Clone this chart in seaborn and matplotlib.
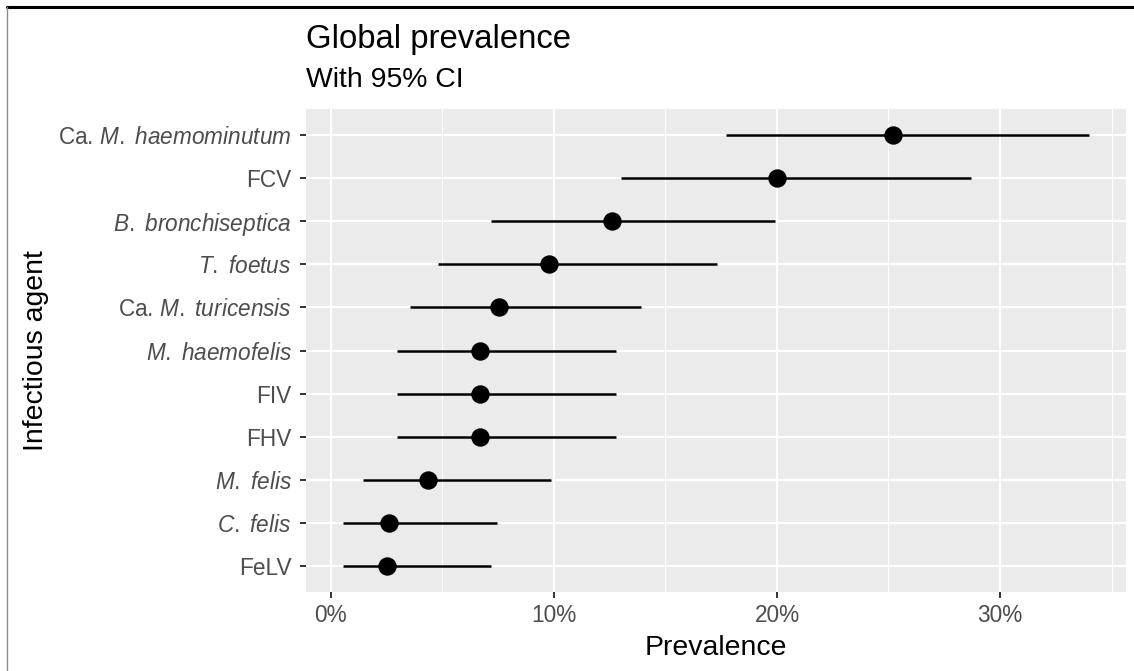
import numpy as np
import pandas as pd
import matplotlib.pyplot as plt
import seaborn as sns
from matplotlib.lines import Line2D
from matplotlib.ticker import FuncFormatter, MultipleLocator

# Data (top row first), prevalence in %
agents = ['Ca. M. haemominutum', 'FCV', 'B. bronchiseptica', 'T. foetus',
          'Ca. M. turicensis', 'M. haemofelis', 'FIV', 'FHV', 'M. felis',
          'C. felis', 'FeLV']
agent_labels = [r'Ca. $\mathit{M.}$ $\mathit{haemominutum}$', 'FCV',
                r'$\mathit{B.}$ $\mathit{bronchiseptica}$', r'$\mathit{T.}$ $\mathit{foetus}\,$',
                r'Ca. $\mathit{M.}$ $\mathit{turicensis}$ ', r'$\mathit{M.}$ $\mathit{haemofelis}$',
                'FIV', 'FHV', r'$\mathit{M.}$ $\mathit{felis}$', r'$\mathit{C.}$ $\mathit{felis}$', 'FeLV']
prevalence = [25.2, 20.0, 12.6, 9.8, 7.55, 6.7, 6.7, 6.7, 4.35, 2.6, 2.5]
ci_low = [17.7, 13.0, 7.2, 4.8, 3.55, 2.95, 2.95, 2.95, 1.45, 0.55, 0.55]
ci_high = [34.0, 28.7, 19.9, 17.3, 13.9, 12.8, 12.8, 12.8, 9.85, 7.45, 7.2]

df = pd.DataFrame({'agent': agents, 'prev': prevalence, 'lo': ci_low, 'hi': ci_high})
df['pos'] = np.arange(len(df))

sns.set_theme(style='darkgrid', rc={
    'axes.facecolor': '#EBEBEB',
    'grid.color': 'white',
})
plt.rcParams['font.family'] = ['Liberation Sans', 'DejaVu Sans']
plt.rcParams['mathtext.fontset'] = 'custom'
plt.rcParams['mathtext.rm'] = 'Liberation Sans'
plt.rcParams['mathtext.it'] = 'Liberation Sans:italic'
plt.rcParams['mathtext.bf'] = 'Liberation Sans:bold'

W, H = 1134, 671
fig = plt.figure(figsize=(W / 100, H / 100), dpi=100)
fig.patch.set_facecolor('white')
px_l, px_r, px_t, px_b = 305.7, 1126, 109, 592
ax = fig.add_axes([px_l / W, 1 - px_b / H, (px_r - px_l) / W, (px_b - px_t) / H])

# CI segments then points
ax.hlines(df['pos'], df['lo'], df['hi'], color='black', lw=1.8, zorder=3)
sns.scatterplot(data=df, x='prev', y='pos', color='black', s=175, linewidth=0,
                zorder=4, ax=ax, legend=False)

ax.set_xlim(-1.13, 35.65)
ax.set_ylim(len(df) - 0.4, -0.6)
ax.xaxis.set_major_locator(MultipleLocator(10))
ax.xaxis.set_minor_locator(MultipleLocator(5))
ax.xaxis.set_major_formatter(FuncFormatter(lambda v, p: f'{v:.0f}%'))
ax.set_yticks(df['pos'])
ax.set_yticklabels(agent_labels)

ax.grid(which='major', color='white', lw=1.45)
ax.grid(which='minor', axis='x', color='white', lw=0.75)
ax.set_axisbelow(True)
for s in ax.spines.values():
    s.set_visible(False)

ax.tick_params(axis='both', which='major', direction='out', length=4, width=1.4,
               color='#333333', labelcolor='#4D4D4D', labelsize=16.3, pad=4.5,
               bottom=True, left=True)
ax.tick_params(axis='y', which='major', pad=6)
ax.tick_params(axis='x', which='minor', length=0)

ax.set_xlabel('Prevalence', fontsize=20.4, color='black', va='baseline')
ax.xaxis.set_label_coords(0.5, (px_b - 655) / (px_b - px_t))
ax.set_ylabel('Infectious agent', fontsize=20.4, color='black', va='baseline',
              ha='center', rotation_mode='anchor')
ax.yaxis.set_label_coords((43.3 - px_l) / (px_r - px_l), 0.5)

fig.text(px_l / W, 1 - 48 / H, 'Global prevalence', fontsize=23.7,
         ha='left', va='baseline', color='black')
fig.text(px_l / W, 1 - 86.7 / H, 'With 95% CI', fontsize=20.4,
         ha='left', va='baseline', color='black')

# screenshot frame edges
fig.add_artist(Line2D([7 / W, 1], [1 - 6.5 / H, 1 - 6.5 / H], color='black',
                      lw=2.2, transform=fig.transFigure))
fig.add_artist(Line2D([7.3 / W, 7.3 / W], [0, 1 - 7 / H], color='#8A8A8A',
                      lw=1.0, transform=fig.transFigure))

fig.savefig('out.png', dpi=100)
